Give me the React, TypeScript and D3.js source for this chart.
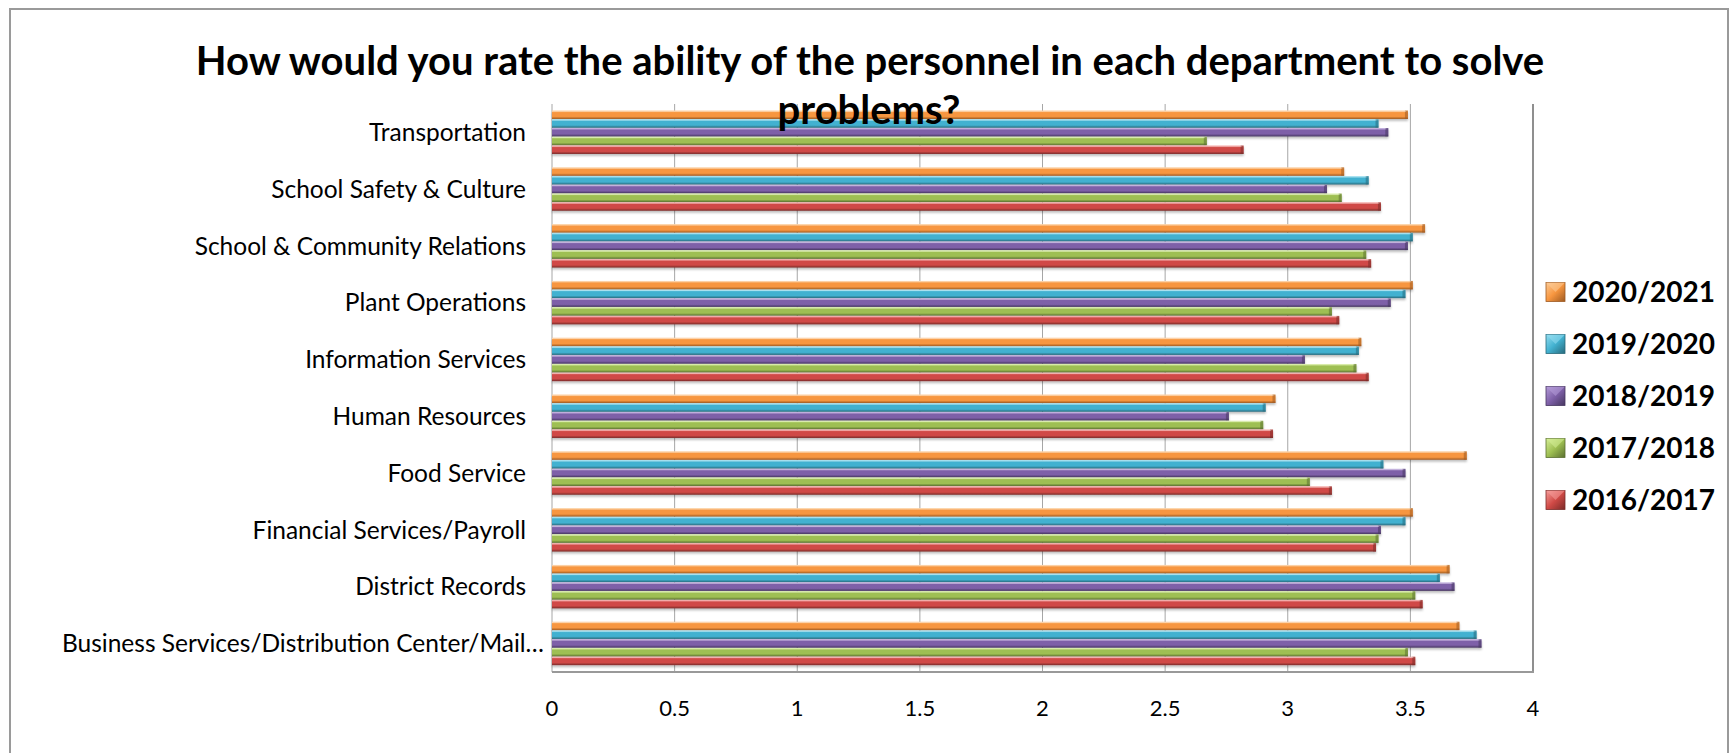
import React from "react";
import * as d3 from "d3";

// Departments, listed top to bottom
const categories = [
  "Transportation",
  "School Safety & Culture",
  "School & Community Relations",
  "Plant Operations",
  "Information Services",
  "Human Resources",
  "Food Service",
  "Financial Services/Payroll",
  "District Records",
  "Business Services/Distribution Center/Mail…",
];

// Survey years, in the order bars are stacked inside each group (top first)
const seriesNames = ["2020/2021", "2019/2020", "2018/2019", "2017/2018", "2016/2017"];

const values2020_2021 = [3.49, 3.23, 3.56, 3.51, 3.3, 2.95, 3.73, 3.51, 3.66, 3.7];
const values2019_2020 = [3.37, 3.33, 3.51, 3.48, 3.29, 2.91, 3.39, 3.48, 3.62, 3.77];
const values2018_2019 = [3.41, 3.16, 3.49, 3.42, 3.07, 2.76, 3.48, 3.38, 3.68, 3.79];
const values2017_2018 = [2.67, 3.22, 3.32, 3.18, 3.28, 2.9, 3.09, 3.37, 3.52, 3.49];
const values2016_2017 = [2.82, 3.38, 3.34, 3.21, 3.33, 2.94, 3.18, 3.36, 3.55, 3.52];

const xTicks = [0, 0.5, 1, 1.5, 2, 2.5, 3, 3.5, 4];

const seriesValues = [values2020_2021, values2019_2020, values2018_2019, values2017_2018, values2016_2017];

// light / base / dark shades for the bevelled bars
const palette = [
  { light: "#FCCB96", base: "#F7963F", dark: "#9E5A22" },
  { light: "#93DDF0", base: "#42B1D0", dark: "#286A7C" },
  { light: "#B59CD9", base: "#7E60A8", dark: "#46365F" },
  { light: "#D6EF98", base: "#9EBF52", dark: "#5A6F30" },
  { light: "#F59D9A", base: "#D04A46", dark: "#7A2B29" },
];

const W = 1731;
const H = 753;
const plot = { left: 552, right: 1533, top: 104, bottom: 672 };

export default function App() {
  const x = d3.scaleLinear().domain([0, 4]).range([plot.left, plot.right]);
  const y = d3
    .scaleBand<string>()
    .domain(categories)
    .range([plot.top, plot.bottom])
    .paddingInner(0.23)
    .paddingOuter(0.115);
  const sub = d3
    .scaleBand<string>()
    .domain(seriesNames)
    .range([0, y.bandwidth()]);

  const font = "Lato, 'Open Sans', sans-serif";

  return (
    <svg
      width={W}
      height={H}
      viewBox={`0 0 ${W} ${H}`}
      style={{ position: "absolute", left: 0, top: 0, background: "#fff" }}
    >
      <defs>
        {palette.map((c, i) => (
          <linearGradient key={i} id={`bar${i}`} x1="0" y1="0" x2="0" y2="1">
            <stop offset="0" stopColor={c.light} />
            <stop offset="0.25" stopColor={c.base} />
            <stop offset="0.7" stopColor={c.base} />
            <stop offset="1" stopColor={c.dark} />
          </linearGradient>
        ))}
        {palette.map((c, i) => (
          <linearGradient key={`s${i}`} id={`sw${i}`} x1="0" y1="0" x2="1" y2="1">
            <stop offset="0" stopColor={c.light} />
            <stop offset="0.5" stopColor={c.base} />
            <stop offset="1" stopColor={c.dark} />
          </linearGradient>
        ))}
        <filter id="shadow" x="-2%" y="-40%" width="104%" height="200%">
          <feDropShadow dx="0" dy="2" stdDeviation="1.3" floodColor="#000" floodOpacity="0.25" />
        </filter>
      </defs>

      {/* outer chart frame */}
      <rect x={10} y={9} width={1718} height={760} fill="#fff" stroke="#9a9a9a" strokeWidth={2} />

      {/* vertical gridlines */}
      {xTicks.map((t) => (
        <line
          key={t}
          x1={x(t)}
          x2={x(t)}
          y1={plot.top}
          y2={plot.bottom}
          stroke={t === 4 ? "#8f8f8f" : "#a6a6a6"}
          strokeWidth={t === 4 ? 2 : 1}
        />
      ))}
      {/* floor edge */}
      <line x1={plot.left} x2={plot.right + 1} y1={plot.bottom} y2={plot.bottom} stroke="#999" strokeWidth={2} />

      {/* bars */}
      {categories.map((cat, ci) => (
        <g key={cat} transform={`translate(0,${y(cat)})`}>
          {seriesNames.map((s, si) => {
            const v = seriesValues[si][ci];
            const by = sub(s)!;
            const bh = sub.bandwidth() - 0.3;
            const bw = x(v) - x(0);
            return (
              <g key={s} filter="url(#shadow)">
                <rect x={x(0)} y={by} width={bw} height={bh} fill={`url(#bar${si})`} />
                {/* bevelled end cap */}
                <rect x={x(v) - 3} y={by} width={3} height={bh} fill={palette[si].dark} opacity={0.55} />
                <line x1={x(0)} x2={x(v) - 2} y1={by + 0.8} y2={by + 0.8} stroke="#fff" strokeOpacity={0.4} strokeWidth={1} />
              </g>
            );
          })}
        </g>
      ))}

      {/* category labels */}
      {categories.map((cat) => {
        const truncated = cat.endsWith("…");
        return (
          <text
            key={cat}
            x={truncated ? 544 : 526}
            y={y(cat)! + y.bandwidth() / 2}
            dy="0.35em"
            textAnchor="end"
            fontFamily={font}
            fontSize={24.5}
            fill="#000"
          >
            {cat}
          </text>
        );
      })}

      {/* value axis labels */}
      {xTicks.map((t) => (
        <text
          key={t}
          x={x(t)}
          y={716}
          textAnchor="middle"
          fontFamily={font}
          fontSize={22}
          fill="#000"
        >
          {String(t)}
        </text>
      ))}

      {/* title */}
      <text x={870} y={75} textAnchor="middle" fontFamily={font} fontWeight={700} fontSize={40} fill="#000">
        How would you rate the ability of the personnel in each department to solve
      </text>
      <text x={869} y={124} textAnchor="middle" fontFamily={font} fontWeight={700} fontSize={40} fill="#000">
        problems?
      </text>

      {/* legend */}
      {seriesNames.map((s, i) => {
        const cy = 292 + i * 52;
        return (
          <g key={s}>
            <rect x={1546} y={cy - 9.5} width={19} height={19} fill={`url(#sw${i})`} stroke={palette[i].dark} strokeWidth={0.8} />
            <path
              d={`M${1546},${cy - 9.5} L${1555.5},${cy} L${1565},${cy - 9.5} Z`}
              fill={palette[i].light}
              opacity={0.55}
            />
            <text x={1572} y={cy} dy="0.36em" fontFamily={font} fontWeight={700} fontSize={28} fill="#000">
              {s}
            </text>
          </g>
        );
      })}
    </svg>
  );
}
